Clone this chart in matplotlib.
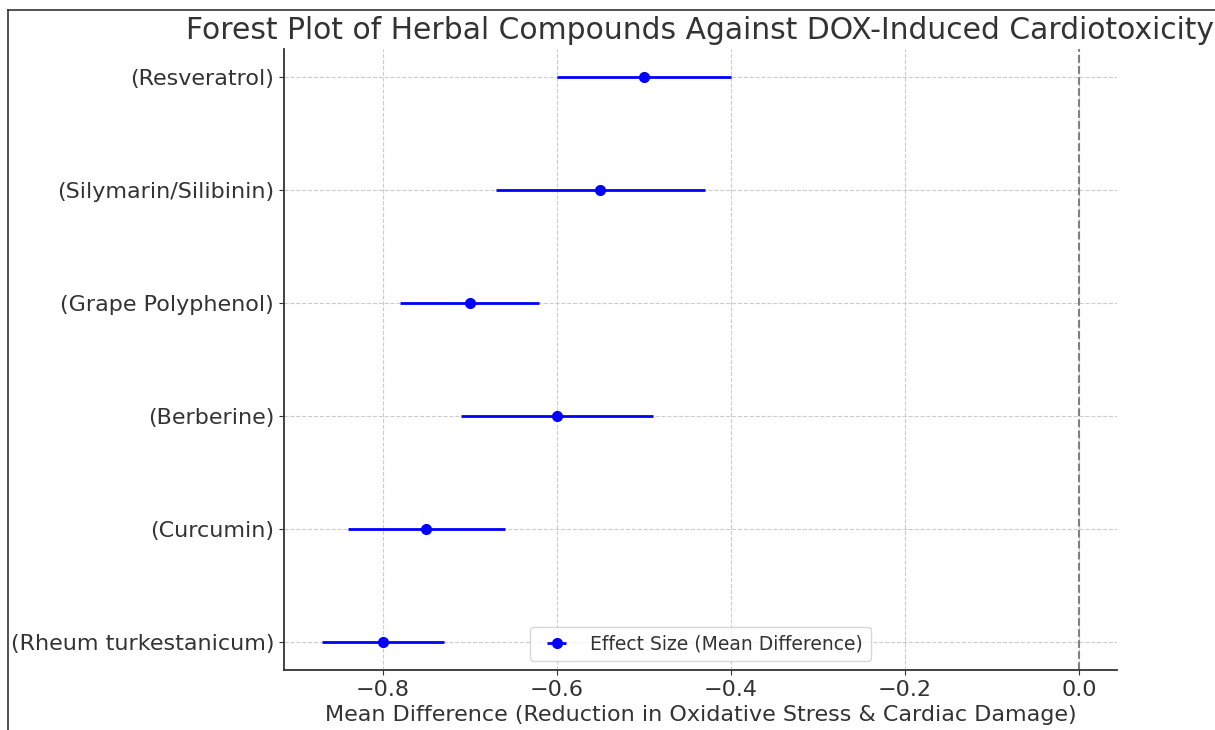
import matplotlib.pyplot as plt
from matplotlib.lines import Line2D

# Data (bottom to top)
compounds = [
    "(Rheum turkestanicum)",
    "(Curcumin)",
    "(Berberine)",
    "(Grape Polyphenol)",
    "(Silymarin/Silibinin)",
    "(Resveratrol)",
]
effect_sizes = [-0.80, -0.75, -0.60, -0.70, -0.55, -0.50]
ci_lower = [-0.87, -0.84, -0.71, -0.78, -0.67, -0.60]
ci_upper = [-0.73, -0.66, -0.49, -0.62, -0.43, -0.40]

text_color = "#333333"
plt.rcParams["text.color"] = text_color
plt.rcParams["axes.labelcolor"] = text_color
plt.rcParams["xtick.color"] = text_color
plt.rcParams["ytick.color"] = text_color

fig = plt.figure(figsize=(12.15, 7.3), dpi=100)
ax = fig.add_axes([0.2337, 0.0822, 0.6856, 0.8507])

y_pos = list(range(len(compounds)))
err_low = [e - lo for e, lo in zip(effect_sizes, ci_lower)]
err_high = [hi - e for e, hi in zip(effect_sizes, ci_upper)]

ax.errorbar(
    effect_sizes,
    y_pos,
    xerr=[err_low, err_high],
    fmt="o",
    color="blue",
    ecolor="blue",
    elinewidth=2,
    capsize=0,
    markersize=7,
    label="Effect Size (Mean Difference)",
)
ax.axvline(0, color="gray", linestyle="--", linewidth=1.5)

ax.set_yticks(y_pos)
ax.set_yticklabels(compounds, fontsize=16)
ax.tick_params(axis="x", labelsize=16)
ax.set_xlabel("Mean Difference (Reduction in Oxidative Stress & Cardiac Damage)", fontsize=16)
ax.set_title(
    "Forest Plot of Herbal Compounds Against DOX-Induced Cardiotoxicity",
    fontsize=21.4,
    pad=7.5,
)
ax.grid(True, linestyle="--", color="#cccccc", linewidth=0.8)
ax.set_axisbelow(True)
for side in ["top", "right"]:
    ax.spines[side].set_visible(False)
for side in ["left", "bottom"]:
    ax.spines[side].set_linewidth(1.3)
    ax.spines[side].set_color("#333333")

ax.legend(loc="lower center", fontsize=13.5)

# screenshot border on the left and top
fig.add_artist(Line2D([8 / 1215, 8 / 1215], [0, 1 - 10 / 730], color="#333333", linewidth=1.2))
fig.add_artist(Line2D([8 / 1215, 1], [1 - 10 / 730, 1 - 10 / 730], color="#333333", linewidth=1.2))

fig.savefig("out.png", dpi=100)
